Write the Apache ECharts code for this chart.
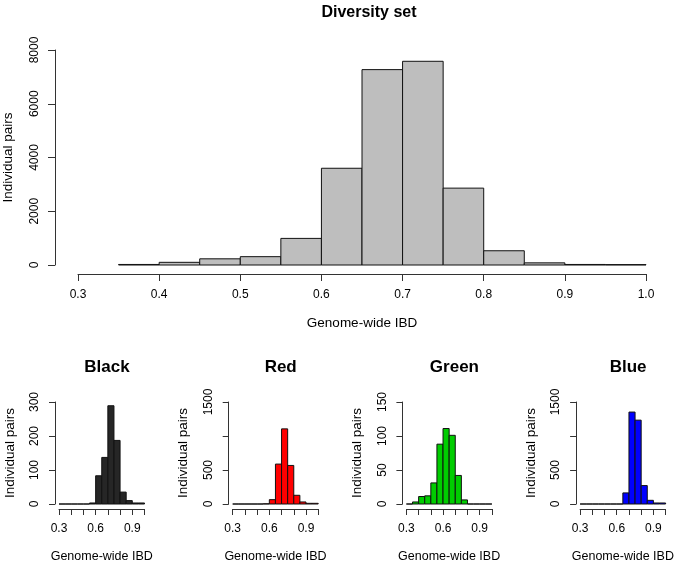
<!DOCTYPE html>
<html>
<head>
<meta charset="utf-8">
<script src="https://cdn.jsdelivr.net/npm/echarts@6/dist/echarts.min.js"></script>
<style>
  html, body { margin: 0; padding: 0; background: #fff; }
  #chart { width: 680px; height: 562px; }
</style>
</head>
<body>
<div id="chart"></div>
<script>
// histogram bins: left / right edges of each bar, plus counts
const mainLeft  = [0.35, 0.40, 0.45, 0.50, 0.55, 0.60, 0.65, 0.70, 0.75, 0.80, 0.85, 0.90, 0.95];
const mainRight = [0.40, 0.45, 0.50, 0.55, 0.60, 0.65, 0.70, 0.75, 0.80, 0.85, 0.90, 0.95, 1.00];
const mainCounts = [20, 100, 230, 310, 990, 3600, 7270, 7580, 2860, 530, 80, 20, 15];

const smallLeft  = [0.30, 0.35, 0.40, 0.45, 0.50, 0.55, 0.60, 0.65, 0.70, 0.75, 0.80, 0.85, 0.90, 0.95];
const smallRight = [0.35, 0.40, 0.45, 0.50, 0.55, 0.60, 0.65, 0.70, 0.75, 0.80, 0.85, 0.90, 0.95, 1.00];
const blackCounts = [0, 0, 0, 0, 0, 3, 83, 137, 289, 187, 35, 10, 3, 3];
const redCounts   = [0, 0, 0, 0, 0, 3, 64, 587, 1105, 567, 128, 30, 10, 10];
const greenCounts = [0, 3, 11, 12, 31, 88, 111, 101, 42, 6, 0, 0, 0, 0];
const blueCounts  = [0, 0, 0, 0, 0, 0, 0, 163, 1352, 1233, 271, 54, 15, 15];

// y axis tick labels (R drops the ones that would overlap)
const mainYLabels  = ['0', '2000', '4000', '6000', '8000'];
const blackYLabels = ['0', '100', '200', '300'];
const redYLabels   = ['0', '500', '', '1500'];
const greenYLabels = ['0', '50', '100', '150'];
const blueYLabels  = ['0', '500', '', '1500'];

const FONT = 'Liberation Sans, Arial, sans-serif';
const AXIS = '#333';

const chart = echarts.init(document.getElementById('chart'), null, { renderer: 'canvas' });

const panels = [
  { title: 'Black', color: '#262626', counts: blackCounts, max: 300, step: 100, labels: blackYLabels },
  { title: 'Red', color: '#ff0000', counts: redCounts, max: 1500, step: 500, labels: redYLabels },
  { title: 'Green', color: '#00cd00', counts: greenCounts, max: 150, step: 50, labels: greenYLabels },
  { title: 'Blue', color: '#0000ff', counts: blueCounts, max: 1500, step: 500, labels: blueYLabels }
];

function histItem(color) {
  return function (params, api) {
    const p0 = api.coord([api.value(0), 0]);
    const p1 = api.coord([api.value(1), api.value(2)]);
    return {
      type: 'rect',
      shape: { x: p0[0], y: p1[1], width: p1[0] - p0[0], height: p0[1] - p1[1] },
      style: { fill: color, stroke: '#111', lineWidth: 1 }
    };
  };
}

function binData(left, right, counts) {
  return counts.map((c, i) => [left[i], right[i], c]);
}

const grids = [{ left: 78, width: 568, top: 50, height: 215, outerBoundsMode: 'none', containLabel: false }];
const titles = [{
  text: 'Diversity set', left: 364, top: 0, textAlign: 'center',
  textStyle: { fontFamily: FONT, fontSize: 16, fontWeight: 'bold', color: '#000' }
}];

const xAxes = [{
  type: 'value', gridIndex: 0, min: 0.3, max: 1.0, interval: 0.1, offset: 9,
  name: 'Genome-wide IBD', nameLocation: 'middle', nameGap: 42,
  nameTextStyle: { fontFamily: FONT, fontSize: 13.5, color: '#000' },
  axisLine: { show: true, onZero: false, lineStyle: { color: AXIS, width: 1 } },
  axisTick: { show: true, length: 7, lineStyle: { color: AXIS } },
  axisLabel: { fontFamily: FONT, fontSize: 12, color: '#000', margin: 15,
               formatter: v => v.toFixed(1) },
  splitLine: { show: false }
}];

const yAxes = [{
  type: 'value', gridIndex: 0, min: 0, max: 8000, interval: 2000, offset: 23,
  name: 'Individual pairs', nameLocation: 'middle', nameGap: 40, nameRotate: 90,
  nameTextStyle: { fontFamily: FONT, fontSize: 13.5, color: '#000' },
  axisLine: { show: true, onZero: false, lineStyle: { color: AXIS, width: 1 } },
  axisTick: { show: true, length: 7, lineStyle: { color: AXIS } },
  axisLabel: { fontFamily: FONT, fontSize: 12, color: '#000', rotate: 90, margin: 14,
               formatter: v => mainYLabels[Math.round(v / 2000)] },
  splitLine: { show: false }
}];

const series = [{
  type: 'custom', xAxisIndex: 0, yAxisIndex: 0, clip: false,
  renderItem: histItem('#bebebe'),
  data: binData(mainLeft, mainRight, mainCounts)
}];

panels.forEach((p, i) => {
  const idx = i + 1;
  const left = 59 + i * 173.7;
  grids.push({ left: left, width: 85.5, top: 402, height: 102, outerBoundsMode: 'none', containLabel: false });
  titles.push({
    text: p.title, left: left + 43, top: 354, textAlign: 'center',
    textStyle: { fontFamily: FONT, fontSize: 17, fontWeight: 'bold', color: '#000' }
  });
  xAxes.push({
    type: 'value', gridIndex: idx, min: 0.3, max: 1.0, interval: 0.1, offset: 5,
    name: 'Genome-wide IBD', nameLocation: 'middle', nameGap: 41,
    nameTextStyle: { fontFamily: FONT, fontSize: 12.5, color: '#000' },
    axisLine: { show: true, onZero: false, lineStyle: { color: AXIS, width: 1 } },
    axisTick: { show: true, length: 6, lineStyle: { color: AXIS } },
    axisLabel: { fontFamily: FONT, fontSize: 12, color: '#000', margin: 14, showMinLabel: true, showMaxLabel: true,
                 formatter: v => (Math.round(v * 10) % 3 === 0 ? v.toFixed(1) : '') },
    splitLine: { show: false }
  });
  yAxes.push({
    type: 'value', gridIndex: idx, min: 0, max: p.max, interval: p.step, offset: 4,
    name: 'Individual pairs', nameLocation: 'middle', nameGap: 38, nameRotate: 90,
    nameTextStyle: { fontFamily: FONT, fontSize: 13.5, color: '#000' },
    axisLine: { show: true, onZero: false, lineStyle: { color: AXIS, width: 1 } },
    axisTick: { show: true, length: 6, lineStyle: { color: AXIS } },
    axisLabel: { fontFamily: FONT, fontSize: 12, color: '#000', rotate: 90, margin: 14,
                 formatter: v => p.labels[Math.round(v / p.step)] },
    splitLine: { show: false }
  });
  series.push({
    type: 'custom', xAxisIndex: idx, yAxisIndex: idx, clip: false,
    renderItem: histItem(p.color),
    data: binData(smallLeft, smallRight, p.counts)
  });
});

chart.setOption({
  animation: false,
  backgroundColor: '#fff',
  title: titles,
  grid: grids,
  xAxis: xAxes,
  yAxis: yAxes,
  series: series
});
</script>
</body>
</html>
